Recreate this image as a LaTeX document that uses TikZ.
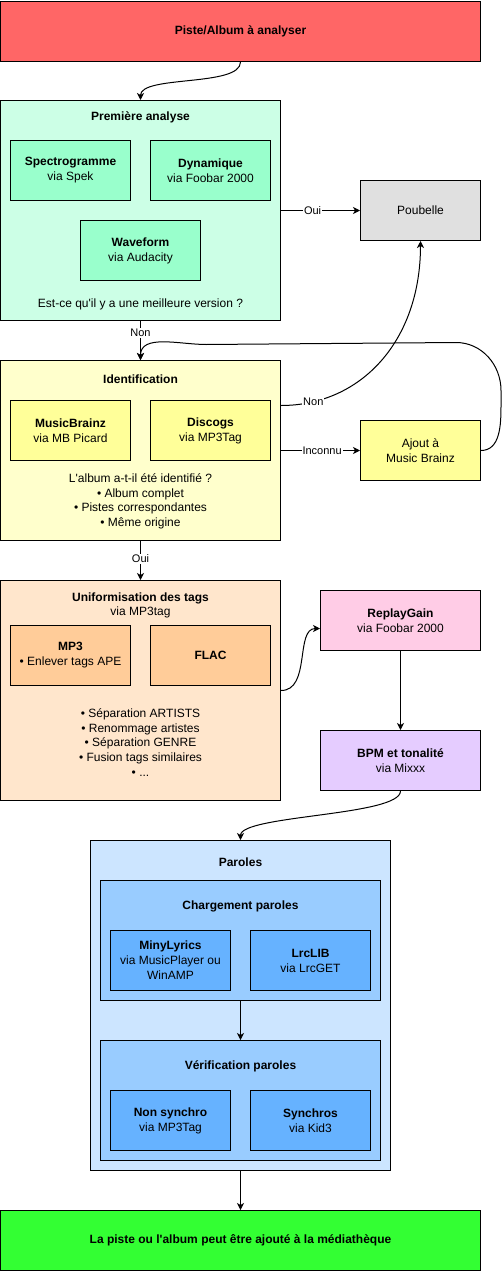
\documentclass[tikz,border=0pt]{standalone}
\usepackage{fontspec}
\setmainfont{Liberation Sans}
\usetikzlibrary{arrows.meta,positioning}

\definecolor{startred}{HTML}{FF6666}
\definecolor{anagroup}{HTML}{CCFFE6}
\definecolor{anabox}{HTML}{99FFCC}
\definecolor{trashgray}{HTML}{E0E0E0}
\definecolor{idgroup}{HTML}{FFFFCC}
\definecolor{idbox}{HTML}{FFFF99}
\definecolor{taggroup}{HTML}{FFE6CC}
\definecolor{tagbox}{HTML}{FFCC99}
\definecolor{gainpink}{HTML}{FFCCE6}
\definecolor{bpmpurple}{HTML}{E5CCFF}
\definecolor{lyrgroup}{HTML}{CCE5FF}
\definecolor{lyrsub}{HTML}{99CCFF}
\definecolor{lyrbox}{HTML}{66B2FF}
\definecolor{endgreen}{HTML}{33FF33}

\newcommand{\ap}{\textquotesingle}

\begin{document}
\begin{tikzpicture}[
    x=1pt, y=-1pt,
    every node/.style={font=\fontsize{12}{15}\selectfont, align=center},
    group/.style={rectangle, draw=black, line width=1pt, inner sep=0pt},
    toolbox/.style={rectangle, draw=black, line width=1pt, inner sep=2pt, minimum width=120pt, minimum height=60pt},
    wide/.style={toolbox, minimum width=480pt, font=\fontsize{12}{15}\selectfont\bfseries},
    conn/.style={-{Stealth[length=7pt, width=7pt, inset=2pt]}, line width=1pt},
    lbl/.style={fill=white, inner sep=1pt, font=\fontsize{11}{13}\selectfont}]

    \useasboundingbox (-0.5,-0.5) rectangle (500.5,1270.5);

    % Start
    \node[wide, fill=startred] (start) at (240,31) {Piste/Album à analyser};

    % Premiere analyse
    \node[group, fill=anagroup, minimum width=280pt, minimum height=220pt] (first) at (140,210) {};
    \node (firsttitle) at (140,117) {\textbf{Première analyse}};
    \node[toolbox, fill=anabox] (spectro) at (70,170) {\textbf{Spectrogramme}\\via Spek};
    \node[toolbox, fill=anabox] (dyna) at (210,170) {\textbf{Dynamique}\\via Foobar 2000};
    \node[toolbox, fill=anabox] (wave) at (140,250) {\textbf{Waveform}\\via Audacity};
    \node (firstquest) at (140,304) {Est-ce qu\ap il y a une meilleure version ?};

    \node[toolbox, fill=trashgray] (trash) at (420,210) {Poubelle};

    % Identification
    \node[group, fill=idgroup, minimum width=280pt, minimum height=180pt] (ident) at (140,450) {};
    \node (identtitle) at (140,379) {\textbf{Identification}};
    \node[toolbox, fill=idbox] (mbrainz) at (70,430) {\textbf{MusicBrainz}\\via MB Picard};
    \node[toolbox, fill=idbox] (discogs) at (210,430) {\textbf{Discogs}\\via MP3Tag};
    \node[font=\fontsize{12}{14.6}\selectfont] (identlist) at (140,501) {L\ap album a-t-il été identifié ?\\• Album complet\\• Pistes correspondantes\\• Même origine};

    \node[toolbox, fill=idbox] (ajout) at (420,450) {Ajout à\\Music Brainz};

    % Uniformisation des tags
    \node[group, fill=taggroup, minimum width=280pt, minimum height=220pt] (uni) at (140,690) {};
    \node (unititle) at (140,605) {\textbf{Uniformisation des tags}\\[-1pt]via MP3tag};
    \node[toolbox, fill=tagbox] (mp3) at (70,655) {\textbf{MP3}\\• Enlever tags APE};
    \node[toolbox, fill=tagbox] (flac) at (210,655) {\textbf{FLAC}};
    \node[font=\fontsize{12}{14.6}\selectfont] (unilist) at (140,742) {• Séparation ARTISTS\\• Renommage artistes\\• Séparation GENRE\\• Fusion tags similaires\\• ...};

    \node[toolbox, fill=gainpink, minimum width=160pt] (replay) at (400,620) {\textbf{ReplayGain}\\via Foobar 2000};
    \node[toolbox, fill=bpmpurple, minimum width=160pt] (bpm) at (400,760) {\textbf{BPM et tonalité}\\via Mixxx};

    % Paroles
    \node[group, fill=lyrgroup, minimum width=300pt, minimum height=330pt] (paroles) at (240,1005) {};
    \node (parolestitle) at (240,862) {\textbf{Paroles}};
    \node[group, fill=lyrsub, minimum width=280pt, minimum height=120pt] (charg) at (240,940) {};
    \node (chargtitle) at (240,906) {\textbf{Chargement paroles}};
    \node[toolbox, fill=lyrbox] (miny) at (170,960) {\textbf{MinyLyrics}\\via MusicPlayer ou\\WinAMP};
    \node[toolbox, fill=lyrbox] (lrclib) at (310,960) {\textbf{LrcLIB}\\via LrcGET};
    \node[group, fill=lyrsub, minimum width=280pt, minimum height=120pt] (verif) at (240,1100) {};
    \node (veriftitle) at (240,1066) {\textbf{Vérification paroles}};
    \node[toolbox, fill=lyrbox] (nonsync) at (170,1120) {\textbf{Non synchro}\\via MP3Tag};
    \node[toolbox, fill=lyrbox] (sync) at (310,1120) {\textbf{Synchros}\\via Kid3};

    % End
    \node[wide, fill=endgreen] (final) at (240,1240) {La piste ou l\ap album peut être ajouté à la médiathèque};

    % Connectors
    \draw[conn] (start.south) .. controls +(0,25) and +(0,-25) .. (first.north);
    \draw[conn] (first.east) -- node[lbl, pos=0.4] {Oui} (trash.west);
    \draw[conn] (first.south) -- node[lbl, pos=0.3] {Non} (ident.north);
    \draw[conn] ([yshift=45pt]ident.east) .. controls +(80,0) and +(0,100) .. node[lbl, pos=0.14] {Non} (trash.south);
    \draw[conn] (ident.east) -- node[lbl, pos=0.52] {Inconnu} (ajout.west);
    \draw[conn] (ajout.east) to[out=0, in=-90] ++(20,-45) -- ++(0,-15) to[out=90, in=0] ++(-45,-48) -- ++(-250,2) to[out=180, in=90] (ident.north);
    \draw[conn] (ident.south) -- node[lbl, pos=0.45] {Oui} (uni.north);
    \draw[conn] (uni.east) .. controls +(30,0) and +(-25,0) .. ([yshift=-8pt]replay.west);
    \draw[conn] (replay.south) -- (bpm.north);
    \draw[conn] (bpm.south) .. controls +(0,25) and +(0,-25) .. (paroles.north);
    \draw[conn] (charg.south) -- (verif.north);
    \draw[conn] (paroles.south) -- (final.north);

\end{tikzpicture}
\end{document}
